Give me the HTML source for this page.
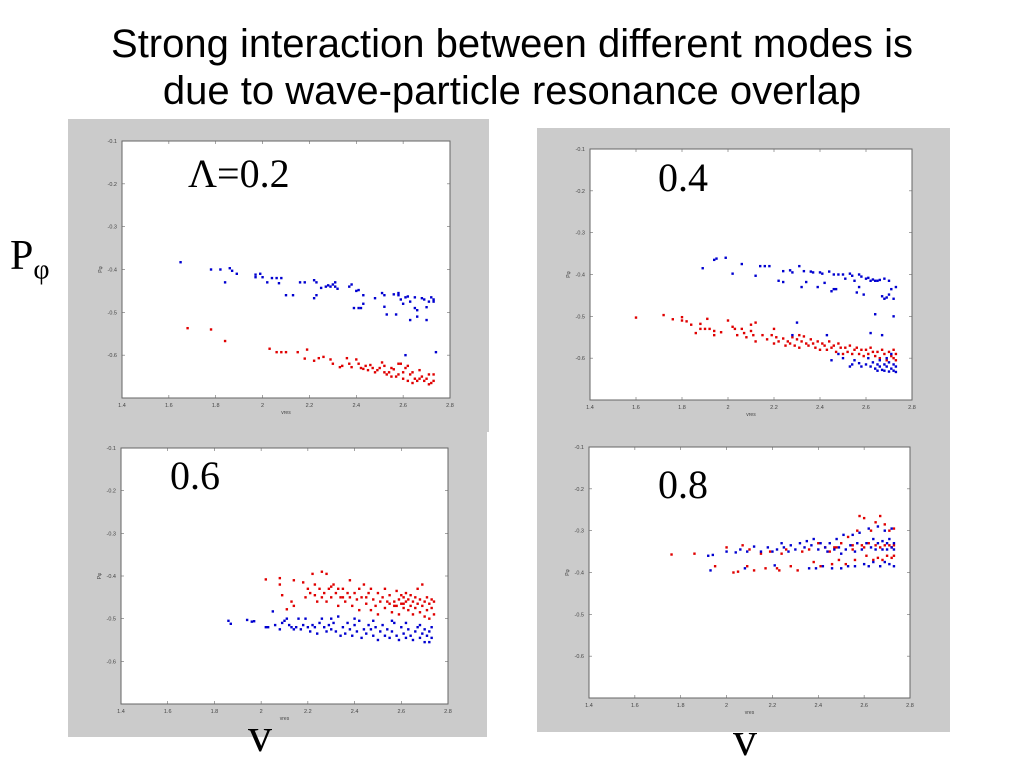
<!DOCTYPE html>
<html><head><meta charset="utf-8">
<style>
html,body{margin:0;padding:0;background:#fff;width:1024px;height:768px;overflow:hidden;position:relative;font-family:"Liberation Sans",sans-serif}
.title{position:absolute;left:0;width:1024px;text-align:center;font-size:40px;line-height:47px;top:21px;color:#000}
.big{position:absolute;font-family:"Liberation Serif",serif;color:#000}
svg{position:absolute;left:0;top:0}
</style></head><body>
<div class="title">Strong interaction between different modes is<br>due to wave-particle resonance overlap</div>
<svg id="chart" width="1024" height="768"></svg>
<div class="big" style="left:10px;top:232px;font-size:42px">P<sub style="font-size:28px">φ</sub></div>
<div class="big" style="left:248px;top:708px;font-size:48px">v</div>
<div class="big" style="left:733px;top:712px;font-size:48px">v</div>
<script>
const xTicks=[1.4,1.6,1.8,2,2.2,2.4,2.6,2.8];
const yTicks=[-0.1,-0.2,-0.3,-0.4,-0.5,-0.6,-0.7];
const panelLabels=["Λ=0.2","0.4","0.6","0.8"];
const p1Blue=[1.65,-0.383,1.78,-0.40,1.82,-0.40,1.84,-0.43,1.86,-0.397,1.87,-0.403,1.89,-0.41,1.97,-0.412,1.97,-0.418,1.99,-0.41,2.0,-0.418,2.02,-0.43,2.04,-0.42,2.06,-0.42,2.07,-0.432,2.08,-0.42,2.10,-0.46,2.13,-0.46,2.16,-0.43,2.18,-0.43,2.22,-0.425,2.23,-0.43,2.23,-0.46,2.22,-0.467,2.25,-0.443,2.27,-0.44,2.28,-0.437,2.29,-0.44,2.30,-0.435,2.31,-0.44,2.31,-0.43,2.32,-0.445,2.37,-0.44,2.38,-0.435,2.39,-0.49,2.40,-0.45,2.41,-0.448,2.41,-0.49,2.42,-0.49,2.43,-0.46,2.43,-0.48,2.48,-0.467,2.51,-0.455,2.52,-0.46,2.52,-0.487,2.53,-0.505,2.56,-0.458,2.57,-0.505,2.58,-0.455,2.58,-0.46,2.59,-0.47,2.60,-0.48,2.61,-0.465,2.62,-0.463,2.63,-0.475,2.63,-0.518,2.65,-0.465,2.65,-0.49,2.66,-0.495,2.66,-0.51,2.68,-0.467,2.69,-0.47,2.70,-0.518,2.70,-0.488,2.71,-0.475,2.72,-0.465,2.73,-0.47,2.73,-0.475,2.74,-0.593,2.61,-0.60];
const p1Red=[1.68,-0.537,1.78,-0.54,1.84,-0.567,2.03,-0.585,2.06,-0.593,2.08,-0.593,2.1,-0.593,2.15,-0.593,2.18,-0.608,2.19,-0.587,2.22,-0.613,2.24,-0.607,2.26,-0.604,2.29,-0.61,2.30,-0.62,2.33,-0.628,2.34,-0.625,2.36,-0.607,2.37,-0.62,2.38,-0.628,2.40,-0.61,2.41,-0.62,2.42,-0.63,2.43,-0.632,2.44,-0.625,2.45,-0.635,2.46,-0.623,2.47,-0.63,2.48,-0.64,2.49,-0.635,2.50,-0.63,2.51,-0.617,2.52,-0.64,2.52,-0.625,2.53,-0.645,2.54,-0.64,2.55,-0.65,2.56,-0.633,2.57,-0.65,2.58,-0.645,2.59,-0.62,2.60,-0.64,2.60,-0.655,2.61,-0.63,2.62,-0.66,2.62,-0.625,2.63,-0.645,2.64,-0.665,2.64,-0.64,2.65,-0.655,2.66,-0.66,2.67,-0.635,2.67,-0.655,2.68,-0.65,2.69,-0.66,2.70,-0.655,2.71,-0.668,2.71,-0.645,2.72,-0.665,2.73,-0.66,2.73,-0.645,2.55,-0.63,2.58,-0.62];
const p2Blue=[1.89,-0.385,1.94,-0.365,1.95,-0.362,1.99,-0.36,2.02,-0.398,2.06,-0.375,2.12,-0.403,2.14,-0.38,2.16,-0.38,2.18,-0.38,2.22,-0.415,2.24,-0.392,2.24,-0.418,2.27,-0.39,2.28,-0.395,2.31,-0.38,2.32,-0.43,2.33,-0.392,2.34,-0.418,2.36,-0.393,2.37,-0.395,2.39,-0.43,2.40,-0.395,2.41,-0.398,2.42,-0.42,2.44,-0.393,2.45,-0.44,2.46,-0.4,2.46,-0.435,2.47,-0.435,2.48,-0.4,2.50,-0.4,2.51,-0.41,2.53,-0.398,2.54,-0.403,2.55,-0.415,2.56,-0.443,2.57,-0.4,2.57,-0.43,2.58,-0.405,2.59,-0.448,2.60,-0.41,2.61,-0.408,2.62,-0.415,2.63,-0.412,2.64,-0.415,2.65,-0.415,2.66,-0.413,2.67,-0.452,2.68,-0.41,2.68,-0.458,2.69,-0.455,2.70,-0.415,2.70,-0.448,2.71,-0.435,2.72,-0.458,2.73,-0.43,2.64,-0.495,2.72,-0.5,2.30,-0.515,2.28,-0.545,2.43,-0.545,2.45,-0.605,2.48,-0.59,2.5,-0.6,2.53,-0.62,2.54,-0.615,2.55,-0.605,2.57,-0.612,2.58,-0.62,2.60,-0.615,2.61,-0.60,2.62,-0.54,2.62,-0.62,2.63,-0.61,2.64,-0.625,2.65,-0.615,2.65,-0.63,2.66,-0.62,2.66,-0.605,2.67,-0.628,2.68,-0.615,2.68,-0.63,2.69,-0.62,2.70,-0.61,2.70,-0.632,2.71,-0.625,2.72,-0.615,2.72,-0.63,2.73,-0.62,2.73,-0.633,2.67,-0.545,2.69,-0.6,2.71,-0.59];
const p2Red=[1.60,-0.503,1.72,-0.497,1.76,-0.507,1.80,-0.502,1.80,-0.51,1.82,-0.512,1.84,-0.52,1.86,-0.54,1.88,-0.518,1.88,-0.53,1.90,-0.53,1.91,-0.506,1.92,-0.53,1.94,-0.535,1.94,-0.545,1.97,-0.538,2.0,-0.51,2.02,-0.525,2.03,-0.53,2.04,-0.545,2.06,-0.53,2.07,-0.54,2.08,-0.55,2.10,-0.535,2.10,-0.52,2.11,-0.545,2.12,-0.56,2.12,-0.515,2.15,-0.545,2.17,-0.555,2.19,-0.545,2.20,-0.53,2.20,-0.565,2.21,-0.55,2.22,-0.56,2.24,-0.553,2.25,-0.57,2.26,-0.56,2.27,-0.565,2.28,-0.55,2.29,-0.57,2.30,-0.555,2.31,-0.545,2.31,-0.575,2.32,-0.56,2.33,-0.548,2.34,-0.565,2.35,-0.57,2.36,-0.555,2.37,-0.565,2.38,-0.575,2.39,-0.56,2.40,-0.58,2.41,-0.565,2.42,-0.57,2.43,-0.58,2.44,-0.56,2.45,-0.575,2.46,-0.57,2.47,-0.585,2.48,-0.565,2.49,-0.575,2.50,-0.59,2.51,-0.575,2.52,-0.585,2.53,-0.57,2.54,-0.59,2.55,-0.58,2.56,-0.575,2.57,-0.59,2.58,-0.58,2.59,-0.595,2.60,-0.58,2.61,-0.59,2.62,-0.575,2.63,-0.585,2.64,-0.595,2.65,-0.585,2.66,-0.6,2.67,-0.58,2.68,-0.59,2.69,-0.605,2.70,-0.585,2.71,-0.595,2.72,-0.6,2.72,-0.58,2.73,-0.605,2.73,-0.59];
const p3Blue=[1.86,-0.505,1.87,-0.512,1.94,-0.503,1.96,-0.507,1.97,-0.506,2.02,-0.52,2.03,-0.52,2.05,-0.483,2.06,-0.515,2.08,-0.525,2.09,-0.51,2.10,-0.505,2.11,-0.50,2.12,-0.515,2.13,-0.52,2.14,-0.525,2.15,-0.52,2.16,-0.50,2.17,-0.525,2.18,-0.515,2.19,-0.50,2.20,-0.52,2.21,-0.53,2.22,-0.515,2.23,-0.52,2.24,-0.535,2.25,-0.51,2.26,-0.5,2.27,-0.52,2.28,-0.53,2.29,-0.515,2.30,-0.525,2.31,-0.51,2.32,-0.53,2.33,-0.495,2.34,-0.54,2.35,-0.52,2.36,-0.535,2.37,-0.51,2.38,-0.525,2.39,-0.54,2.40,-0.515,2.41,-0.53,2.42,-0.505,2.43,-0.545,2.44,-0.525,2.45,-0.535,2.46,-0.515,2.47,-0.525,2.48,-0.54,2.49,-0.52,2.50,-0.55,2.51,-0.53,2.52,-0.515,2.53,-0.54,2.54,-0.525,2.55,-0.545,2.56,-0.53,2.57,-0.51,2.58,-0.54,2.59,-0.55,2.60,-0.52,2.61,-0.535,2.62,-0.545,2.63,-0.525,2.64,-0.54,2.65,-0.55,2.66,-0.53,2.67,-0.52,2.68,-0.545,2.69,-0.535,2.70,-0.525,2.70,-0.555,2.71,-0.54,2.72,-0.53,2.73,-0.545,2.73,-0.52,2.72,-0.555,2.68,-0.515,2.62,-0.51,2.56,-0.505,2.48,-0.505,2.4,-0.5,2.3,-0.5];
const p3Red=[2.02,-0.408,2.08,-0.405,2.08,-0.42,2.09,-0.445,2.11,-0.478,2.13,-0.46,2.14,-0.41,2.14,-0.47,2.18,-0.415,2.19,-0.45,2.20,-0.43,2.21,-0.44,2.22,-0.395,2.23,-0.42,2.23,-0.445,2.24,-0.46,2.25,-0.43,2.26,-0.39,2.26,-0.45,2.27,-0.44,2.28,-0.395,2.28,-0.46,2.29,-0.43,2.30,-0.425,2.30,-0.45,2.31,-0.42,2.32,-0.44,2.33,-0.43,2.33,-0.47,2.34,-0.45,2.35,-0.43,2.36,-0.46,2.37,-0.44,2.38,-0.41,2.38,-0.45,2.39,-0.47,2.40,-0.44,2.41,-0.455,2.42,-0.43,2.42,-0.48,2.43,-0.45,2.44,-0.42,2.45,-0.465,2.46,-0.44,2.47,-0.43,2.47,-0.48,2.48,-0.455,2.49,-0.47,2.50,-0.44,2.50,-0.49,2.51,-0.46,2.52,-0.45,2.53,-0.43,2.53,-0.475,2.54,-0.46,2.55,-0.445,2.56,-0.485,2.57,-0.46,2.58,-0.435,2.58,-0.47,2.59,-0.455,2.59,-0.49,2.60,-0.445,2.60,-0.465,2.61,-0.475,2.61,-0.45,2.62,-0.46,2.62,-0.44,2.63,-0.48,2.63,-0.455,2.64,-0.47,2.64,-0.445,2.65,-0.49,2.65,-0.46,2.66,-0.475,2.66,-0.45,2.67,-0.43,2.67,-0.465,2.68,-0.485,2.68,-0.455,2.69,-0.42,2.69,-0.47,2.70,-0.46,2.70,-0.495,2.71,-0.45,2.71,-0.48,2.72,-0.465,2.72,-0.5,2.73,-0.455,2.73,-0.475,2.74,-0.46,2.74,-0.49,2.57,-0.47,2.61,-0.465,2.55,-0.465,2.45,-0.45,2.35,-0.45];
const p4Blue=[1.92,-0.36,1.93,-0.395,1.94,-0.358,2.00,-0.35,2.04,-0.352,2.06,-0.345,2.08,-0.39,2.09,-0.35,2.12,-0.338,2.15,-0.35,2.18,-0.34,2.20,-0.35,2.21,-0.383,2.22,-0.345,2.24,-0.33,2.25,-0.34,2.27,-0.35,2.28,-0.335,2.30,-0.345,2.32,-0.33,2.34,-0.34,2.35,-0.325,2.36,-0.39,2.37,-0.335,2.38,-0.32,2.39,-0.39,2.40,-0.345,2.41,-0.33,2.42,-0.385,2.43,-0.34,2.44,-0.35,2.45,-0.33,2.46,-0.39,2.47,-0.345,2.48,-0.32,2.49,-0.34,2.50,-0.355,2.51,-0.31,2.52,-0.345,2.53,-0.385,2.54,-0.335,2.55,-0.31,2.56,-0.35,2.57,-0.33,2.58,-0.305,2.59,-0.345,2.60,-0.38,2.61,-0.33,2.62,-0.295,2.63,-0.34,2.64,-0.32,2.64,-0.375,2.65,-0.345,2.66,-0.29,2.66,-0.33,2.67,-0.385,2.68,-0.325,2.68,-0.345,2.69,-0.3,2.69,-0.375,2.70,-0.33,2.70,-0.345,2.71,-0.38,2.71,-0.32,2.72,-0.34,2.72,-0.295,2.73,-0.33,2.73,-0.385,2.73,-0.345,2.62,-0.385,2.56,-0.385,2.5,-0.39];
const p4Red=[1.76,-0.357,1.86,-0.355,1.95,-0.385,2.00,-0.34,2.03,-0.4,2.05,-0.398,2.07,-0.335,2.09,-0.385,2.10,-0.345,2.12,-0.395,2.15,-0.355,2.17,-0.39,2.19,-0.35,2.22,-0.39,2.23,-0.395,2.24,-0.355,2.26,-0.345,2.28,-0.385,2.31,-0.395,2.33,-0.35,2.36,-0.345,2.38,-0.375,2.40,-0.33,2.41,-0.385,2.43,-0.34,2.45,-0.35,2.46,-0.38,2.48,-0.34,2.49,-0.37,2.50,-0.33,2.52,-0.38,2.53,-0.315,2.55,-0.345,2.56,-0.37,2.57,-0.3,2.58,-0.265,2.59,-0.335,2.60,-0.27,2.61,-0.36,2.62,-0.33,2.63,-0.3,2.64,-0.37,2.65,-0.335,2.65,-0.28,2.66,-0.365,2.67,-0.265,2.67,-0.34,2.68,-0.37,2.69,-0.285,2.69,-0.335,2.70,-0.36,2.71,-0.335,2.71,-0.3,2.72,-0.365,2.72,-0.34,2.73,-0.335,2.73,-0.295,2.73,-0.36,2.6,-0.34,2.55,-0.335,2.47,-0.34];

const panels=[
 {box:[68,119,421,313],ax:[122,141,450,398],lab:[188,187],blue:p1Blue,red:p1Red},
 {box:[537,128,413,304],ax:[590,149,912,400],lab:[658,191],blue:p2Blue,red:p2Red},
 {box:[68,432,419,305],ax:[121,448,448,704],lab:[170,489],blue:p3Blue,red:p3Red},
 {box:[537,432,413,300],ax:[589,447,910,698],lab:[658,498],blue:p4Blue,red:p4Red}
];
const NS="http://www.w3.org/2000/svg";
const svg=document.getElementById('chart');
function mk(tag,attrs,parent){const e=document.createElementNS(NS,tag);for(const k in attrs)e.setAttribute(k,attrs[k]);(parent||svg).appendChild(e);return e;}
panels.forEach((p,i)=>{
  const g=mk('g',{});
  
  
  const bg=mk('rect',{x:p.box[0],y:p.box[1],width:p.box[2],height:p.box[3],fill:'#cbcbcb'},g);
  
  
  const [l,t,r,b]=p.ax;
  const xs=v=>l+(v-1.4)/1.4*(r-l);
  const ys=v=>t+(-0.1-v)/0.6*(b-t);
  const frame=mk('rect',{x:l,y:t,width:r-l,height:b-t,fill:'#fff',stroke:'#666','stroke-width':1},g);
  
  
  xTicks.forEach(v=>{
    const x=xs(v);
    mk('line',{x1:x,y1:b,x2:x,y2:b-3,stroke:'#666','stroke-width':0.6},g);
    mk('line',{x1:x,y1:t,x2:x,y2:t+3,stroke:'#666','stroke-width':0.6},g);
    const tx=mk('text',{x:x,y:b+9,'font-size':5.5,fill:'#444','text-anchor':'middle','font-family':'Liberation Sans, sans-serif'},g);
    tx.textContent=v;
    
    
  });
  yTicks.forEach(v=>{
    const y=ys(v);
    mk('line',{x1:l,y1:y,x2:l+3,y2:y,stroke:'#666','stroke-width':0.6},g);
    mk('line',{x1:r,y1:y,x2:r-3,y2:y,stroke:'#666','stroke-width':0.6},g);
    if(v>-0.65){
      const ty=mk('text',{x:l-5,y:y+2,'font-size':5.5,fill:'#444','text-anchor':'end','font-family':'Liberation Sans, sans-serif'},g);
      ty.textContent=v;
      
      
    }
  });
  const xl=mk('text',{x:(l+r)/2,y:b+16,'font-size':5,fill:'#444','text-anchor':'middle'},g);
  xl.textContent='vres';
  
  
  const yl=mk('text',{x:0,y:0,'font-size':5,fill:'#444','text-anchor':'middle',transform:`translate(${l-20},${ys(-0.4)}) rotate(-90)`},g);
  yl.textContent='Pφ';
  
  
  const lt=mk('text',{x:p.lab[0],y:p.lab[1],'font-size':40,fill:'#000','font-family':'Liberation Serif, serif'},g);
  lt.textContent=panelLabels[i];
  
  
  [['red','#e00000'],['blue','#0000d0']].forEach(([key,col])=>{
    const arr=p[key];
    for(let k=0;k<arr.length;k+=2){
      const d=mk('rect',{x:xs(arr[k])-1.2,y:ys(arr[k+1])-1.2,width:2.4,height:2.4,fill:col},g);
      
      
    }
  });
});
</script>
</body></html>
